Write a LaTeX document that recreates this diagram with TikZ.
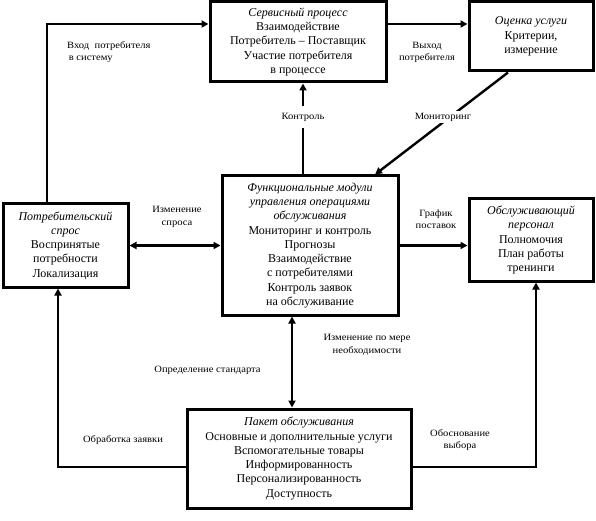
\documentclass[tikz,border=0pt]{standalone}
\usepackage{fontspec}
\setmainfont{Liberation Serif}
\newfontfamily\lblfont{Liberation Serif}[FakeStretch=1.1]
\usetikzlibrary{arrows.meta}

\begin{document}
\begin{tikzpicture}
  [x=1pt,y=-1pt,
   blok/.style={draw,line width=3pt,align=center,inner sep=2pt,
     font=\fontsize{12}{14.3}\selectfont},
   lbl/.style={align=center,inner sep=1pt,font=\lblfont\fontsize{9.6}{12.5}\selectfont},
   pil/.style={line width=2.4pt,arrows={-{Triangle[length=7pt,width=7pt]}}},
   pil2/.style={line width=2.4pt,arrows={{Triangle[length=7pt,width=7pt]}-{Triangle[length=7pt,width=7pt]}}}]
  \useasboundingbox (0,0) rectangle (596,521);

  \node[blok,minimum width=176,minimum height=80] (srv) at (298,42)
    {\textit{Сервисный процесс}\\Взаимодействие\\Потребитель -- Поставщик\\Участие потребителя\\в процессе};
  \node[blok,minimum width=124,minimum height=69] (ocn) at (531,36.5)
    {\textit{Оценка услуги}\\Критерии,\\измерение};
  \node[blok,minimum width=125,minimum height=83] (spros) at (65.5,245.5)
    {\textit{Потребительский}\\\textit{спрос}\\Воспринятые\\потребности\\Локализация};
  \node[blok,minimum width=176,minimum height=139] (func) at (310,245.5)
    {\textit{Функциональные модули}\\\textit{управления операциями}\\\textit{обслуживания}\\Мониторинг и контроль\\Прогнозы\\Взаимодействие\\с потребителями\\Контроль заявок\\на обслуживание};
  \node[blok,minimum width=124,minimum height=82] (pers) at (531,240)
    {\textit{Обслуживающий}\\\textit{персонал}\\Полномочия\\План работы\\тренинги};
  \node[blok,minimum width=224,minimum height=99] (paket) at (299,458.5)
    {\textit{Пакет обслуживания}\\Основные и дополнительные услуги\\Вспомогательные товары\\Информированность\\Персонализированность\\Доступность};

  % bends of the connectors
  \coordinate (k1) at (47,24);
  \coordinate (k2) at (303,0);
  \coordinate (m1) at (508,0);
  \coordinate (m2) at (375,0);
  \coordinate (k4) at (292,0);
  \coordinate (k5) at (58,467);
  \coordinate (k7) at (536,467);

  \draw[pil] (spros.north -| k1) |- (srv.west |- k1);
  \draw[pil] (srv.east |- k1) -- (ocn.west |- k1);
  \draw[pil] (ocn.south -| m1) -- (func.north -| m2);
  \draw[pil] (func.north -| k2) -- node[lbl,pos=.63,fill=white,inner ysep=7pt] (kontr) {Контроль} (srv.south -| k2);
  \draw[pil2] (spros.east) -- (func.west |- spros.east);
  \draw[pil] (func.east) -- (pers.west |- func.east);
  \draw[pil2] (func.south -| k4) -- (paket.north -| k4);
  \draw[pil] (paket.west |- k5) -| (spros.south -| k5);
  \draw[pil] (paket.east |- k7) -| (pers.south -| k7);

  \node[lbl,anchor=north west,align=left] (vhod) at (66,40) {Вход~ потребителя\\\,в систему};
  \node[lbl] (vyhod) at (427,52.5) {Выход\\потребителя};
  \node[lbl,fill=white,inner sep=2pt] (monit) at (443,117) {Мониторинг};
  \node[lbl] (izmsp) at (177,217) {Изменение\\спроса};
  \node[lbl] (grafik) at (436,219) {График\\поставок};
  \node[lbl] (izmmer) at (367,345) {Изменение по мере\\необходимости};
  \node[lbl] (opred) at (207.5,370) {Определение стандарта};
  \node[lbl] (obrab) at (123,440) {Обработка заявки};
  \node[lbl] (obosn) at (460,440) {Обоснование\\выбора};
\end{tikzpicture}
\end{document}
